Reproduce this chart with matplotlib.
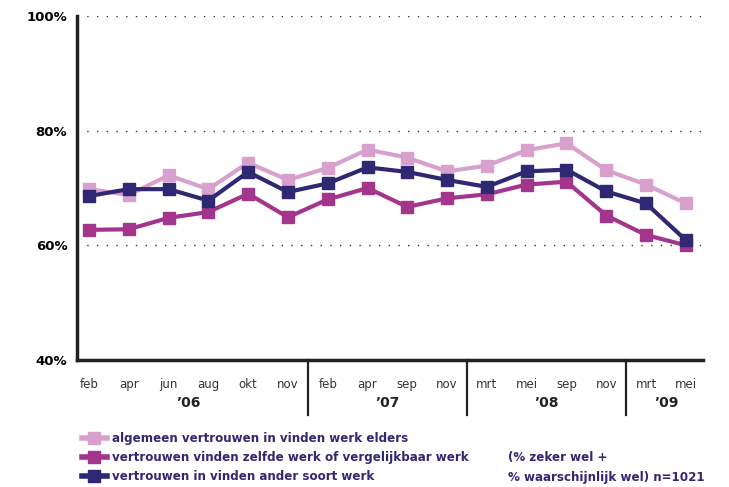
import matplotlib.pyplot as plt
from matplotlib.lines import Line2D

# ---------- data ----------
months = ["feb", "apr", "jun", "aug", "okt", "nov",
          "feb", "apr", "sep", "nov",
          "mrt", "mei", "sep", "nov",
          "mrt", "mei"]
years = ["\u201906", "\u201907", "\u201908", "\u201909"]
year_groups = [(0, 5), (6, 9), (10, 13), (14, 15)]

algemeen = [69.8, 68.8, 72.2, 69.8, 74.4, 71.4, 73.5, 76.7,
            75.3, 72.9, 73.9, 76.6, 77.8, 73.1, 70.6, 67.3]
zelfde = [62.7, 62.8, 64.8, 65.8, 69.0, 64.9, 68.0, 70.0,
          66.7, 68.2, 68.9, 70.6, 71.1, 65.2, 61.8, 60.0]
ander = [68.6, 69.8, 69.8, 67.8, 72.8, 69.3, 70.8, 73.6,
         72.8, 71.4, 70.2, 72.9, 73.2, 69.4, 67.3, 60.9]

labels = ["algemeen vertrouwen in vinden werk elders",
          "vertrouwen vinden zelfde werk of vergelijkbaar werk",
          "vertrouwen in vinden ander soort werk"]
colors = ["#d8a0cc", "#a3358c", "#2f2872"]

# ---------- figure ----------
fig = plt.figure(figsize=(7.29, 4.87), dpi=100)
ax = fig.add_axes([77 / 729, 1 - 360 / 487, (703 - 77) / 729, (360 - 16) / 487])

x = list(range(len(months)))
for series, col in zip([algemeen, zelfde, ander], colors):
    ax.plot(x, series, color=col, lw=3, marker="s", ms=8.5, mec=col, mfc=col,
            solid_joinstyle="miter", zorder=3)

ax.set_ylim(40, 100)
ax.set_xlim(-0.3, 15.43)
ax.set_yticks([40, 60, 80, 100])
ax.set_yticklabels(["40%", "60%", "80%", "100%"], fontsize=9.5, fontweight="bold")
for yv in [60, 80, 100]:
    ax.axhline(yv, color="#333333", lw=1.0, ls=(0, (1, 6)), zorder=1)

ax.set_xticks(x)
ax.set_xticklabels(months, fontsize=8.5, color="#333333")
ax.tick_params(axis="x", length=0, pad=13)
ax.tick_params(axis="y", length=0, pad=7)
for s in ["top", "right"]:
    ax.spines[s].set_visible(False)
ax.spines["left"].set_linewidth(2.5)
ax.spines["bottom"].set_linewidth(2.5)
ax.spines["left"].set_color("#222222")
ax.spines["bottom"].set_color("#222222")

# year labels and separators below the axis
trans = ax.get_xaxis_transform()
for yr, (a, b) in zip(years, year_groups):
    ax.text((a + b) / 2, -0.125, yr, transform=trans, ha="center", va="center",
            fontsize=10, fontweight="bold", color="#222222")
for a, b in year_groups[1:]:
    ax.plot([a - 0.5, a - 0.5], [0, -0.16], transform=trans, color="#222222",
            lw=1.6, clip_on=False)

# legend
handles = [Line2D([], [], color=c, lw=4, marker="s", ms=8, mec=c, mfc=c)
           for c in colors]
leg = fig.legend(handles, labels, loc="upper left",
                 bbox_to_anchor=(71 / 729, 1 - 421 / 487), frameon=False,
                 handlelength=2.1, handletextpad=0.45, labelspacing=0.5,
                 prop={"size": 8.6, "weight": "bold"})
for t in leg.get_texts():
    t.set_color("#2f2872")

fig.text(508 / 729, 1 - 458 / 487, "(% zeker wel +", fontsize=8.6, fontweight="bold",
         color="#2f2872", va="center")
fig.text(508 / 729, 1 - 477 / 487, "% waarschijnlijk wel) n=1021", fontsize=8.6,
         fontweight="bold", color="#2f2872", va="center")

fig.savefig("out.png", dpi=100)
